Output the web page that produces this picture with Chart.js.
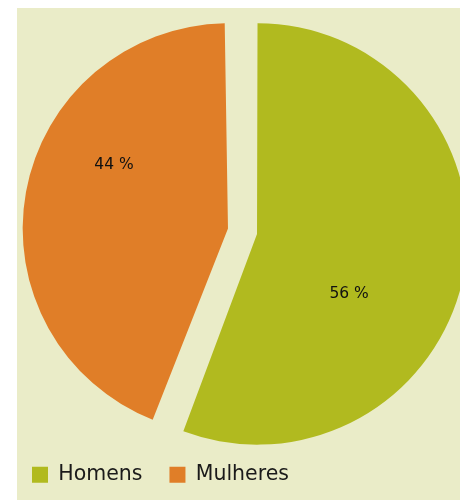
<!DOCTYPE html>
<html>
<head>
<meta charset="utf-8">
<script src="https://cdn.jsdelivr.net/npm/chart.js@4"></script>
<style>
  body { margin: 0; background: #ffffff; }
  #wrap { position: relative; width: 460px; height: 500px; overflow: hidden; }
  #bg { position: absolute; left: 17px; top: 8px; width: 443px; height: 492px; background: #eaecc8; }
  #myChart { position: absolute; left: 0; top: 0; }
</style>
</head>
<body>
<div id="wrap">
  <div id="bg"></div>
  <canvas id="myChart" width="480" height="500"></canvas>
</div>
<script>
// gender split
const labels = ["Homens", "Mulheres"];
const shares = [56, 44];

const COLORS = {
  green: '#b1ba1f',
  orange: '#e07e28'
};

// where each percentage sits inside its slice:
// angle clockwise from 12 o'clock (deg) and fraction of the radius
const labelSpots = [
  { angle: 123, dist: 0.56 },
  { angle: 299, dist: 0.665 }
];

const sliceLabels = {
  id: 'sliceLabels',
  afterDatasetsDraw(chart) {
    const ctx = chart.ctx;
    const meta = chart.getDatasetMeta(0);
    ctx.save();
    ctx.font = '15.5px "DejaVu Sans"';
    ctx.fillStyle = '#111111';
    ctx.textAlign = 'center';
    ctx.textBaseline = 'middle';
    meta.data.forEach(function (arc, i) {
      const half = (arc.startAngle + arc.endAngle) / 2;
      const shift = (arc.options.offset || 0) / 4;
      const cx = arc.x + Math.cos(half) * shift;
      const cy = arc.y + Math.sin(half) * shift;
      const a = labelSpots[i].angle * Math.PI / 180;
      const d = arc.outerRadius * labelSpots[i].dist;
      ctx.fillText(shares[i] + ' %', cx + Math.sin(a) * d, cy - Math.cos(a) * d);
    });
    ctx.restore();
  }
};

const data = {
  labels: labels,
  datasets: [{
    data: shares,
    backgroundColor: [COLORS.green, COLORS.orange],
    borderWidth: 0,
    offset: 59,
    hoverOffset: 0,
    radius: 196
  }]
};

const config = {
  type: 'pie',
  data: data,
  options: {
    responsive: false,
    animation: false,
    rotation: -0.5,
    layout: {
      padding: { left: 5, right: 0, top: 25, bottom: 5 }
    },
    plugins: {
      legend: {
        position: 'bottom',
        align: 'start',
        labels: {
          boxWidth: 16,
          boxHeight: 16,
          padding: 27,
          color: '#1a1a1a',
          font: { family: 'DejaVu Sans', size: 20.5 }
        }
      },
      tooltip: { enabled: false }
    }
  },
  plugins: [sliceLabels]
};

const myChart = new Chart(document.getElementById('myChart'), config);
</script>
</body>
</html>
